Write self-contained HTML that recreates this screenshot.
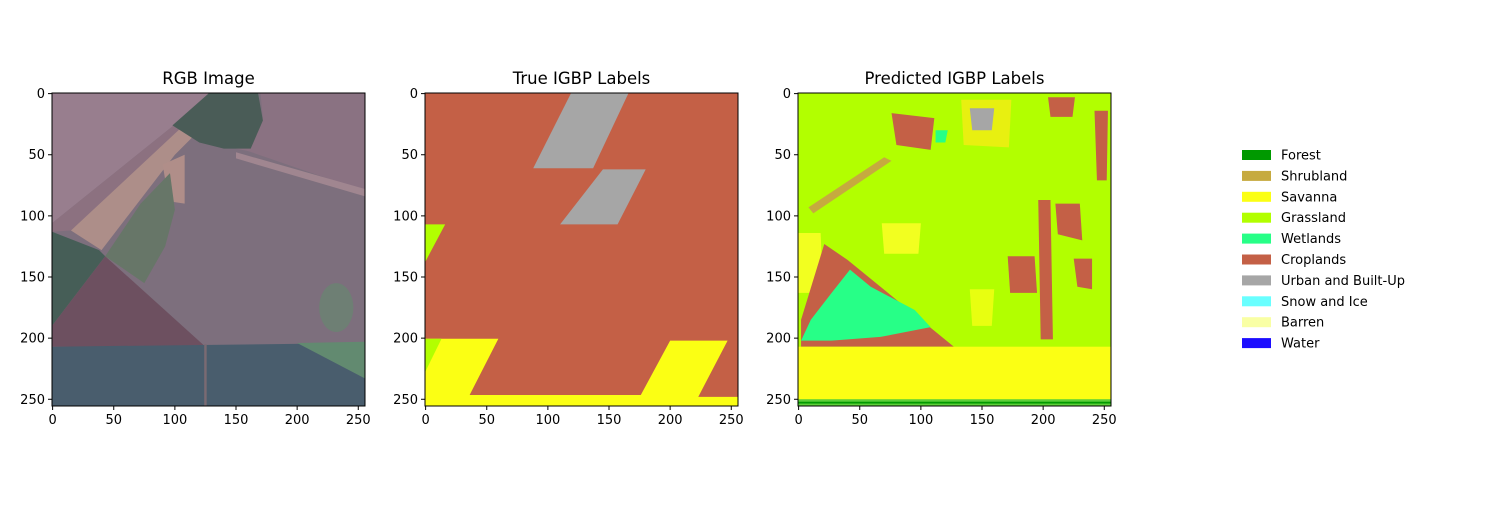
<!DOCTYPE html>
<html><head><meta charset="utf-8"><style>
body{margin:0;background:#fff;}
svg text{font-family:"DejaVu Sans","Liberation Sans",sans-serif;fill:#000;}
</style></head><body>
<svg id="fig" width="1500" height="500" xmlns="http://www.w3.org/2000/svg">
<rect width="1500" height="500" fill="#fff"/>

<!-- Panel 1: RGB -->
<svg x="52" y="93" width="313" height="313" viewBox="-0.5 -0.5 256 256" preserveAspectRatio="none">
<rect x="-0.5" y="-0.5" width="256" height="256" fill="#7d6f7d"/>
<polygon points="130,-0.5 255.5,-0.5 255.5,80 160,47 150,45 172,20 170,-0.5" fill="#8a7282"/>
<polygon points="-0.5,-0.5 132,-0.5 -0.5,106" fill="#987e8e"/>
<polygon points="-0.5,106 132,-0.5 140,-0.5 15,112 -0.5,113" fill="#8c7180"/>
<polygon points="15,112 40,128 100,50 115,35 105,28 60,70" fill="#ad8e89"/>
<polygon points="90,58 108,50 108,90 95,88" fill="#b08e89"/>
<polygon points="98,26 128,-0.5 168,-0.5 172,22 162,45 140,45 120,40" fill="#4a5c57"/>
<polygon points="-0.5,113 38,128 43,133 -0.5,190" fill="#465e57"/>
<polygon points="43,133 75,155 92,125 100,95 96,65 72,90" fill="#677668"/>
<polygon points="-0.5,190 43,133 125,207 -0.5,207" fill="#6d5060"/>
<polygon points="-0.5,207 255.5,204 255.5,255.5 -0.5,255.5" fill="#495d6d"/>
<polygon points="200,204 255.5,203 255.5,233" fill="#628a70"/>
<ellipse cx="232" cy="175" rx="14" ry="20" fill="#6e7f74"/>
<polygon points="150,48 255.5,78 255.5,84 150,53" fill="#a08690"/>
<rect x="124" y="205" width="2" height="51" fill="#7a6a72"/>
</svg>

<!-- Panel 2: True labels -->
<svg x="425" y="93" width="313" height="313" viewBox="-0.5 -0.5 256 256" preserveAspectRatio="none">
<rect x="-0.5" y="-0.5" width="256" height="256" fill="#c46046"/>
<polygon points="119,-0.5 166,-0.5 137,61 88,61" fill="#a6a6a6"/>
<polygon points="145,62 180,62 157,107 110,107" fill="#a6a6a6"/>
<polygon points="-0.5,107 16,107 -0.5,138" fill="#b2ff00"/>
<polygon points="-0.5,200.5 59.5,200.5 36,246.5 176,246.5 200,202 247,202 223,248 255.5,248 255.5,255.5 -0.5,255.5" fill="#fbff14"/>
<polygon points="-0.5,200.5 13,200.5 -0.5,228" fill="#b2ff00"/>
</svg>

<!-- Panel 3: Predicted labels -->
<svg x="798" y="93" width="313" height="313" viewBox="-0.5 -0.5 256 256" preserveAspectRatio="none">
<rect x="-0.5" y="-0.5" width="256" height="256" fill="#b2ff00"/>
<polygon points="-0.5,114 18,114 20,163 -0.5,163" fill="#f2ff20"/>
<polygon points="8,93 70,52 76,55 12,98" fill="#c6aa3f"/>
<polygon points="2,185 21,123 40,136 127,207 2,207" fill="#c46046"/>
<polygon points="2,202 10,185 27,163 42,144 59,158 95,177 108,191 67,199 27,202" fill="#27ff87"/>
<polygon points="196,87 206,87 208,201 198,201" fill="#c46046"/>
<polygon points="171,133 193,133 195,163 173,163" fill="#c46046"/>
<polygon points="204,3 226,3 224,19 206,19" fill="#c46046"/>
<polygon points="242,14 253,14 252,71 244,71" fill="#c46046"/>
<polygon points="76,16 111,20 108,46 80,42" fill="#c46046"/>
<polygon points="210,90 230,90 232,120 212,115" fill="#c46046"/>
<polygon points="225,135 240,135 240,160 228,158" fill="#c46046"/>
<polygon points="133,5 174,5 172,44 135,42" fill="#e8f010"/>
<polygon points="140,12 160,12 158,30 142,30" fill="#a6a6a6"/>
<polygon points="68,106 100,106 98,131 70,131" fill="#f2ff20"/>
<polygon points="140,160 160,160 158,190 142,190" fill="#e8ff10"/>
<polygon points="112,30 122,30 120,40 112,40" fill="#27ff87"/>
<rect x="-0.5" y="207" width="256" height="43" fill="#fbff14"/>
<rect x="-0.5" y="250" width="256" height="5.5" fill="#5ecf3a"/>
<rect x="-0.5" y="252" width="256" height="1.5" fill="#009900"/>
</svg>

<g id="axes"></g>
<g id="legend"></g>
</svg>
<script>
const ticks=[0,50,100,150,200,250];
const titles=["RGB Image","True IGBP Labels","Predicted IGBP Labels"];
const panelX=[52,425,798];
const classes=["Forest","Shrubland","Savanna","Grassland","Wetlands","Croplands","Urban and Built-Up","Snow and Ice","Barren","Water"];
const classColors=["#009900","#c6aa3f","#fbff14","#b2ff00","#27ff87","#c46046","#a6a6a6","#69ffff","#f9ffa4","#1c0dff"];
const NS="http://www.w3.org/2000/svg";
const ax=document.getElementById('axes');
const Y0=93,W=313,S=W/256;
function mk(t,a,p){const e=document.createElementNS(NS,t);for(const k in a)e.setAttribute(k,a[k]);p.appendChild(e);return e;}
panelX.forEach((x0,i)=>{
  const g=mk('g',{},ax);
  
  
  const fr=mk('rect',{x:x0,y:Y0,width:W,height:W,fill:'none',stroke:'#000','stroke-width':1},g);
  
  
  const t=mk('text',{x:x0+W/2,y:Y0-9,'text-anchor':'middle','font-size':16.5},g);
  t.textContent=titles[i];
  
  
  ticks.forEach(v=>{
    const px=x0+(v+0.5)*S, py=Y0+(v+0.5)*S;
    mk('line',{x1:px,x2:px,y1:Y0+W,y2:Y0+W+4,stroke:'#000'},g);
    const tx=mk('text',{x:px,y:Y0+W+18,'text-anchor':'middle','font-size':13},g);
    tx.textContent=v;
    
    
    mk('line',{x1:x0-4,x2:x0,y1:py,y2:py,stroke:'#000'},g);
    const ty=mk('text',{x:x0-7,y:py+4.5,'text-anchor':'end','font-size':13},g);
    ty.textContent=v;
    
    
  });
});
const lg=document.getElementById('legend');
classes.forEach((c,i)=>{
  const y=155+i*20.9;
  const r=mk('rect',{x:1242,y:y-5,width:29,height:10,fill:classColors[i]},lg);
  
  
  const t=mk('text',{x:1281,y:y+4.5,'font-size':13},lg);
  t.textContent=c;
  
  
});
</script>
</body></html>
